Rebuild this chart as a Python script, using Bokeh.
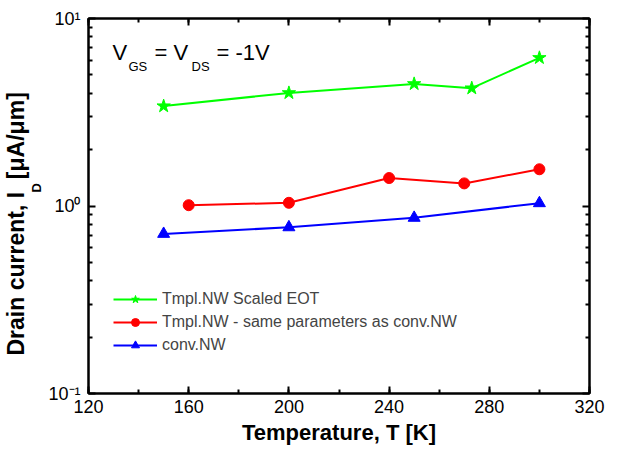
from bokeh.plotting import figure
from bokeh.models import (Range1d, LinearAxis, LogAxis, SingleIntervalTicker, FixedTicker,
                          BasicTickFormatter, Label, Legend, LegendItem, Title)
from bokeh.embed import file_html
from bokeh.resources import INLINE

# ---- data ----
T_scaled = [150, 200, 250, 273, 300]
I_scaled = [3.41, 4.01, 4.48, 4.25, 6.17]
T_same = [160, 200, 240, 270, 300]
I_same = [1.01, 1.04, 1.41, 1.32, 1.57]
T_conv = [150, 200, 250, 300]
I_conv = [0.71, 0.77, 0.865, 1.035]

series_labels = ["Tmpl.NW Scaled EOT", "Tmpl.NW - same parameters as conv.NW", "conv.NW"]
y_major = [0.1, 1, 10]
y_minor = [0.2, 0.3, 0.4, 0.5, 0.6, 0.7, 0.8, 0.9, 2, 3, 4, 5, 6, 7, 8, 9]
y_tick_labels = {0.1: "10\u207b\u00b9", 1: "10\u2070", 10: "10\u00b9"}

FONT = "Liberation Sans"

p = figure(width=626, height=452, x_range=Range1d(120, 320), y_range=Range1d(0.1, 10),
           y_axis_type="log", output_backend="svg", toolbar_location=None,
           min_border_left=83, min_border_right=37, min_border_top=18, min_border_bottom=59)
p.grid.visible = False
p.outline_line_color = "black"
p.outline_line_width = 2
p.background_fill_color = "white"
p.border_fill_color = "white"


def style(ax):
    ax.axis_line_width = 2
    ax.axis_line_color = "black"
    ax.major_tick_in = 7
    ax.major_tick_out = 0
    ax.minor_tick_in = 4
    ax.minor_tick_out = 0
    ax.major_tick_line_width = 2
    ax.minor_tick_line_width = 2
    ax.major_label_text_font = FONT
    ax.major_label_text_font_size = "18px"
    ax.major_label_text_color = "black"


xa = p.xaxis[0]
xa.ticker = SingleIntervalTicker(interval=40, num_minor_ticks=2)
style(xa)
xa.major_label_standoff = 6
xa.axis_label = "Temperature, T [K]"
xa.axis_label_text_font = FONT
xa.axis_label_text_font_style = "bold"
xa.axis_label_text_font_size = "22px"
xa.axis_label_text_color = "black"
xa.axis_label_standoff = 4

ya = p.yaxis[0]
ya.ticker = FixedTicker(ticks=y_major, minor_ticks=y_minor)
ya.formatter = BasicTickFormatter()
style(ya)
ya.major_label_overrides = y_tick_labels
ya.major_label_standoff = 8

top = LinearAxis(ticker=SingleIntervalTicker(interval=40, num_minor_ticks=2))
style(top)
top.major_label_text_font_size = "0px"
p.add_layout(top, "above")

right = LogAxis(ticker=FixedTicker(ticks=y_major, minor_ticks=y_minor),
                formatter=BasicTickFormatter())
style(right)
right.major_label_text_font_size = "0px"
p.add_layout(right, "right")

# y axis title: subscript first (nearer the axis), then the main text
sub_title = Title(text="D", align="left", offset=201, standoff=0, text_font=FONT,
                  text_font_size="13px", text_font_style="bold", text_color="black",
                  vertical_align="top")
p.add_layout(sub_title, "left")
main_title = Title(text="Drain current, I\u00a0 [\u03bcA/\u03bcm]", align="left", offset=38,
                   standoff=0, text_font=FONT, text_font_size="23px",
                   text_font_style="bold", text_color="black")
p.add_layout(main_title, "left")

# ---- series ----
g_l = p.line(T_scaled, I_scaled, line_color="#00FF00", line_width=2)
g_m = p.scatter(T_scaled, I_scaled, marker="star", size=14, fill_color="#00FF00", line_color="#00FF00")
r_l = p.line(T_same, I_same, line_color="#FF0000", line_width=2)
r_m = p.scatter(T_same, I_same, marker="circle", size=11, fill_color="#FF0000", line_color="#FF0000")
b_l = p.line(T_conv, I_conv, line_color="#0000FF", line_width=2)
b_m = p.scatter(T_conv, I_conv, marker="triangle", size=12, fill_color="#0000FF", line_color="#0000FF")

legend = Legend(items=[LegendItem(label=series_labels[0], renderers=[g_l, g_m]),
                       LegendItem(label=series_labels[1], renderers=[r_l, r_m]),
                       LegendItem(label=series_labels[2], renderers=[b_l, b_m])],
                location=(25, 38), border_line_color=None, background_fill_alpha=0,
                label_text_font=FONT, label_text_font_size="16px", glyph_width=44,
                glyph_height=20, label_height=20, spacing=3, padding=0, margin=0,
                label_standoff=5)
p.add_layout(legend)

FL, FB = 83, 393  # frame left / bottom in picture px


def lab(text, px, py, size):
    p.add_layout(Label(text=text, x=px - FL, y=FB - py, x_units="screen", y_units="screen",
                       text_font=FONT, text_font_size=size, text_color="black"))


# annotation V_GS = V_DS = -1V
lab("V", 107, 64, "22px")
lab("GS", 123, 73, "13px")
lab("= V", 149, 64, "22px")
lab("DS", 186, 73, "13px")
lab("= -1V", 211, 64, "22px")

open("out.html", "w").write(file_html(p, INLINE))
